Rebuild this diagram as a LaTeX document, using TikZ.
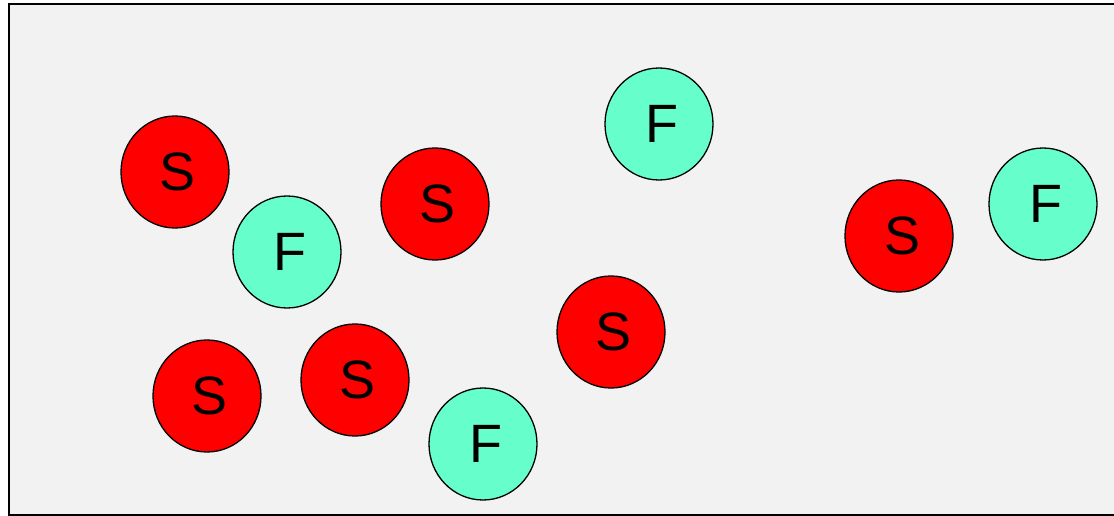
\documentclass[tikz,border=0pt]{standalone}
\usepackage{fontspec}
\setmainfont{Liberation Sans}
\usetikzlibrary{shapes.geometric}
\definecolor{panelgray}{HTML}{F2F2F2}
\definecolor{fastteal}{HTML}{66FFCC}
\definecolor{slowred}{HTML}{FF0000}
% letter sits a little right of the ball's centre
\newcommand\ballletter[1]{\kern3pt#1\kern-3pt}
\begin{document}
\begin{tikzpicture}[x=1pt,y=-1pt,
  ball/.style={ellipse,minimum width=108pt,minimum height=112pt,inner sep=0pt,
    draw=black,line width=1.3pt,font=\fontsize{54}{54}\selectfont},
  slowball/.style={ball,fill=slowred},
  fastball/.style={ball,fill=fastteal}]
\useasboundingbox (0,0) rectangle (1114,516);
\clip (0,0) rectangle (1114,516);
\draw[fill=panelgray,line width=2pt] (9,4) rectangle (1130,515);
\node[slowball] (s1) at (175,172) {\ballletter{S}};
\node[fastball] (f1) at (287,252) {\ballletter{F}};
\node[slowball] (s2) at (435,204) {\ballletter{S}};
\node[fastball] (f2) at (659,124) {\ballletter{F}};
\node[slowball] (s3) at (899,236) {\ballletter{S}};
\node[fastball] (f3) at (1043,204) {\ballletter{F}};
\node[slowball] (s4) at (611,332) {\ballletter{S}};
\node[slowball] (s5) at (207,396) {\ballletter{S}};
\node[slowball] (s6) at (355,380) {\ballletter{S}};
\node[fastball] (f4) at (483,444) {\ballletter{F}};
\end{tikzpicture}
\end{document}
